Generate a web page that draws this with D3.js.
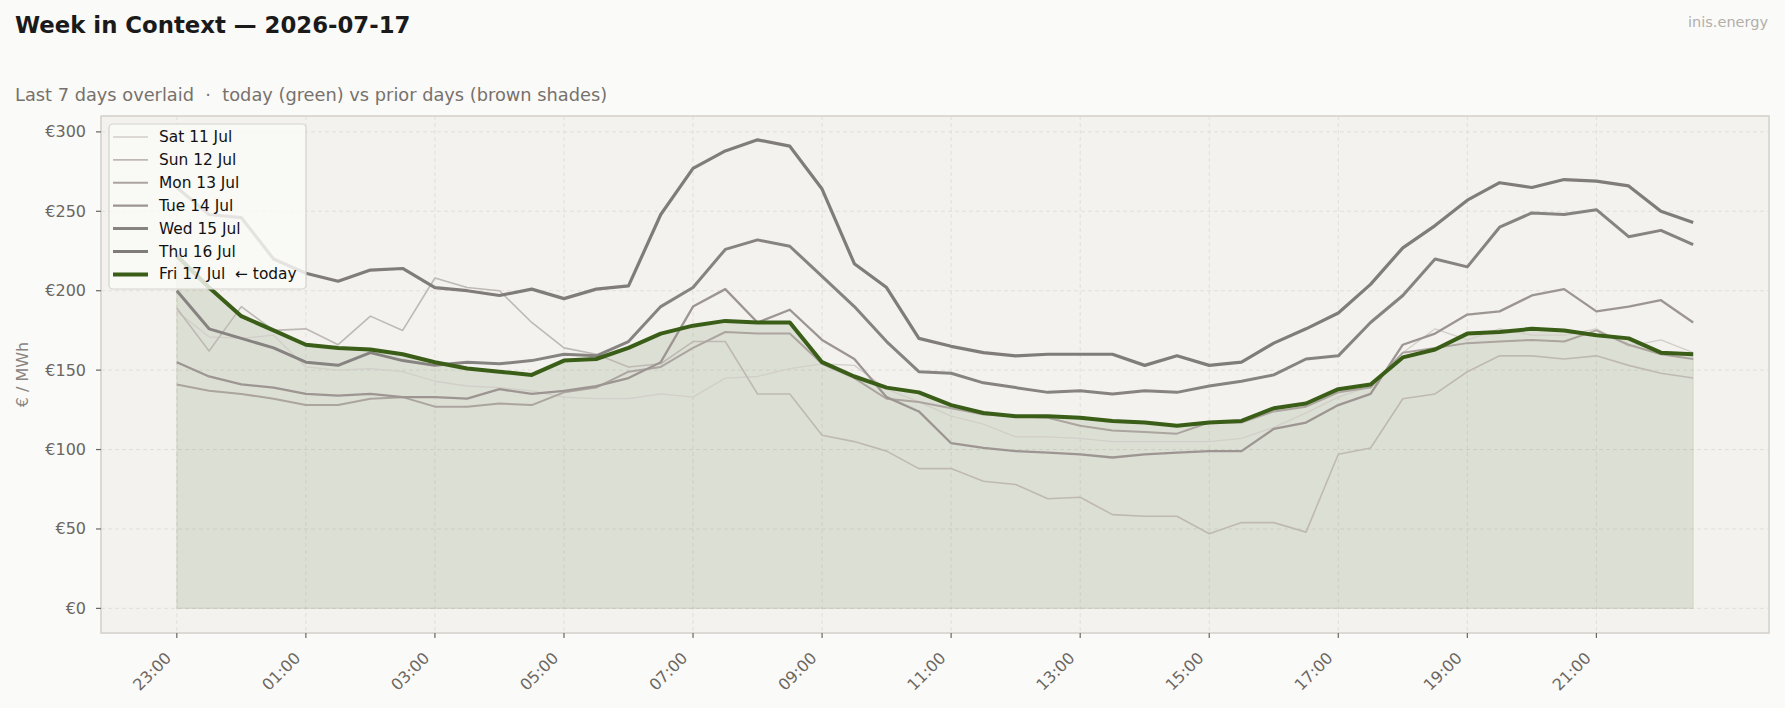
<!DOCTYPE html>
<html>
<head>
<meta charset="utf-8">
<script src="https://cdn.jsdelivr.net/npm/d3@7.9.0/dist/d3.min.js"></script>
<style>
  html, body { margin: 0; padding: 0; background: #fafaf8; }
  svg { display: block; font-family: "DejaVu Sans", sans-serif; }
  svg text { white-space: pre; }
</style>
</head>
<body>
<svg id="chart" width="1785" height="708"></svg>
<script>
// half-hour slots from 23:00 (day before) to 22:30
const tickIdx = [0, 4, 8, 12, 16, 20, 24, 28, 32, 36, 40, 44];
const tickLabels = ['23:00', '01:00', '03:00', '05:00', '07:00', '09:00',
  '11:00', '13:00', '15:00', '17:00', '19:00', '21:00'];
const yTicks = [0, 50, 100, 150, 200, 250, 300];

const days = ['Sat 11 Jul', 'Sun 12 Jul', 'Mon 13 Jul', 'Tue 14 Jul',
  'Wed 15 Jul', 'Thu 16 Jul', 'Fri 17 Jul  \u2190 today'];

const sat = [187, 171, 170, 172, 152, 150, 151, 149, 143, 140, 139, 137,
  133, 132, 132, 135, 133, 145, 146, 151, 154, 153, 138, 130,
  121, 116, 108, 108, 107, 105, 105, 105, 105, 107, 114, 123,
  133, 140, 161, 176, 169, 176, 172, 172, 176, 165, 169, 161];
const sun = [189, 162, 190, 175, 176, 166, 184, 175, 208, 202, 200, 180,
  164, 160, 152, 154, 168, 168, 135, 135, 109, 105, 99, 88,
  88, 80, 78, 69, 70, 59, 58, 58, 47, 54, 54, 48,
  97, 101, 132, 135, 149, 159, 159, 157, 159, 153, 148, 145];
const mon = [141, 137, 135, 132, 128, 128, 132, 133, 127, 127, 129, 128,
  136, 139, 149, 152, 164, 174, 173, 173, 154, 145, 132, 130,
  126, 122, 121, 120, 115, 112, 111, 110, 117, 117, 124, 127,
  136, 139, 161, 164, 167, 168, 169, 168, 175, 166, 160, 157];
const tue = [155, 146, 141, 139, 135, 134, 135, 133, 133, 132, 138, 135,
  137, 140, 145, 155, 190, 201, 180, 188, 169, 157, 133, 124,
  104, 101, 99, 98, 97, 95, 97, 98, 99, 99, 113, 117,
  128, 135, 166, 173, 185, 187, 197, 201, 187, 190, 194, 180];
const wed = [200, 176, 170, 164, 155, 153, 161, 156, 153, 155, 154, 156,
  160, 159, 168, 190, 202, 226, 232, 228, 209, 190, 168, 149,
  148, 142, 139, 136, 137, 135, 137, 136, 140, 143, 147, 157,
  159, 180, 197, 220, 215, 240, 249, 248, 251, 234, 238, 229];
const thu = [265, 248, 246, 220, 211, 206, 213, 214, 202, 200, 197, 201,
  195, 201, 203, 248, 277, 288, 295, 291, 264, 217, 202, 170,
  165, 161, 159, 160, 160, 160, 153, 159, 153, 155, 167, 176,
  186, 204, 227, 241, 257, 268, 265, 270, 269, 266, 250, 243];
const fri = [222, 202, 184, 175, 166, 164, 163, 160, 155, 151, 149, 147,
  156, 157, 164, 173, 178, 181, 180, 180, 155, 146, 139, 136,
  128, 123, 121, 121, 120, 118, 117, 115, 117, 118, 126, 129,
  138, 141, 158, 163, 173, 174, 176, 175, 172, 170, 161, 160];

const series = [sat, sun, mon, tue, wed, thu, fri];
const colors = ['#d2cec9', '#bfb9b4', '#aba49f', '#9c9591', '#878381', '#807c79', '#3a5e17'];
const widths = [1.3, 1.6, 2.0, 2.3, 3.0, 3.2, 4.0];

const svg = d3.select('#chart');
const plotL = 101, plotR = 1769, plotT = 116, plotB = 633;

const x = d3.scaleLinear().domain([-2.35, 49.35]).range([plotL, plotR]);
const y = d3.scaleLinear().domain([-15.5, 310]).range([plotB, plotT]);

// header
svg.append('text').attr('x', 15).attr('y', 33)
  .attr('font-size', 22.8).attr('font-weight', 'bold').attr('fill', '#1a1a1a')
  .text('Week in Context \u2014 2026-07-17');
svg.append('text').attr('x', 15).attr('y', 101)
  .attr('font-size', 17.8).attr('fill', '#77716c')
  .text('Last 7 days overlaid  \u00b7  today (green) vs prior days (brown shades)');
svg.append('text').attr('x', 1768).attr('y', 27).attr('text-anchor', 'end')
  .attr('font-size', 14.5).attr('fill', '#b2afab')
  .text('inis.energy');

// plot background
svg.append('rect').attr('x', plotL).attr('y', plotT)
  .attr('width', plotR - plotL).attr('height', plotB - plotT)
  .attr('fill', '#f3f2ee');

// grid
const grid = svg.append('g').attr('stroke', '#dedbd5').attr('stroke-width', 0.8)
  .attr('stroke-dasharray', '4,3');
yTicks.forEach((t) => {
  grid.append('line').attr('x1', plotL).attr('x2', plotR)
    .attr('y1', y(t)).attr('y2', y(t));
});
tickIdx.forEach((t) => {
  grid.append('line').attr('y1', plotT).attr('y2', plotB)
    .attr('x1', x(t)).attr('x2', x(t));
});

// area under today
const area = d3.area().x((d, i) => x(i)).y0(y(0)).y1((d) => y(d));
svg.append('path').attr('d', area(fri))
  .attr('fill', '#3a5e17').attr('fill-opacity', 0.12)
  .attr('stroke', '#3a5e17').attr('stroke-opacity', 0.1).attr('stroke-width', 1.2);

// lines
const line = d3.line().x((d, i) => x(i)).y((d) => y(d));
series.forEach((s, k) => {
  svg.append('path').attr('d', line(s))
    .attr('fill', 'none').attr('stroke', colors[k])
    .attr('stroke-width', widths[k]).attr('stroke-linejoin', 'round');
});

// frame
svg.append('rect').attr('x', plotL).attr('y', plotT)
  .attr('width', plotR - plotL).attr('height', plotB - plotT)
  .attr('fill', 'none').attr('stroke', '#d3d0ca').attr('stroke-width', 1.5);

// axes
const yAxis = svg.append('g');
yTicks.forEach((t) => {
  yAxis.append('line').attr('x1', plotL - 5).attr('x2', plotL)
    .attr('y1', y(t)).attr('y2', y(t)).attr('stroke', '#6b6661').attr('stroke-width', 1.2);
  yAxis.append('text').attr('x', plotL - 15).attr('y', y(t))
    .attr('text-anchor', 'end').attr('dominant-baseline', 'central')
    .attr('font-size', 16).attr('fill', '#6b6661')
    .text('\u20ac' + t);
});
svg.append('text')
  .attr('transform', `translate(28,${(plotT + plotB) / 2}) rotate(-90)`)
  .attr('text-anchor', 'middle').attr('font-size', 16).attr('fill', '#8a847f')
  .text('\u20ac / MWh');

const xAxis = svg.append('g');
tickIdx.forEach((t, k) => {
  xAxis.append('line').attr('x1', x(t)).attr('x2', x(t))
    .attr('y1', plotB).attr('y2', plotB + 5).attr('stroke', '#6b6661').attr('stroke-width', 1.2);
  xAxis.append('text')
    .attr('transform', `translate(${x(t) - 4.5},${plotB + 26}) rotate(-45)`)
    .attr('text-anchor', 'end').attr('font-size', 16).attr('fill', '#6b6661')
    .text(tickLabels[k]);
});

// legend
const lg = svg.append('g');
lg.append('rect').attr('x', 109).attr('y', 124).attr('width', 197).attr('height', 165)
  .attr('rx', 4).attr('fill', '#fafaf8').attr('fill-opacity', 0.82)
  .attr('stroke', '#d6d3ce').attr('stroke-width', 1.2);
days.forEach((d, k) => {
  const cy = 137 + k * 22.9;
  lg.append('line').attr('x1', 113).attr('x2', 148).attr('y1', cy).attr('y2', cy)
    .attr('stroke', colors[k]).attr('stroke-width', widths[k]);
  lg.append('text').attr('x', 159).attr('y', cy).attr('dominant-baseline', 'central')
    .attr('font-size', 15.4).attr('fill', '#111').text(d);
});
</script>
</body>
</html>
